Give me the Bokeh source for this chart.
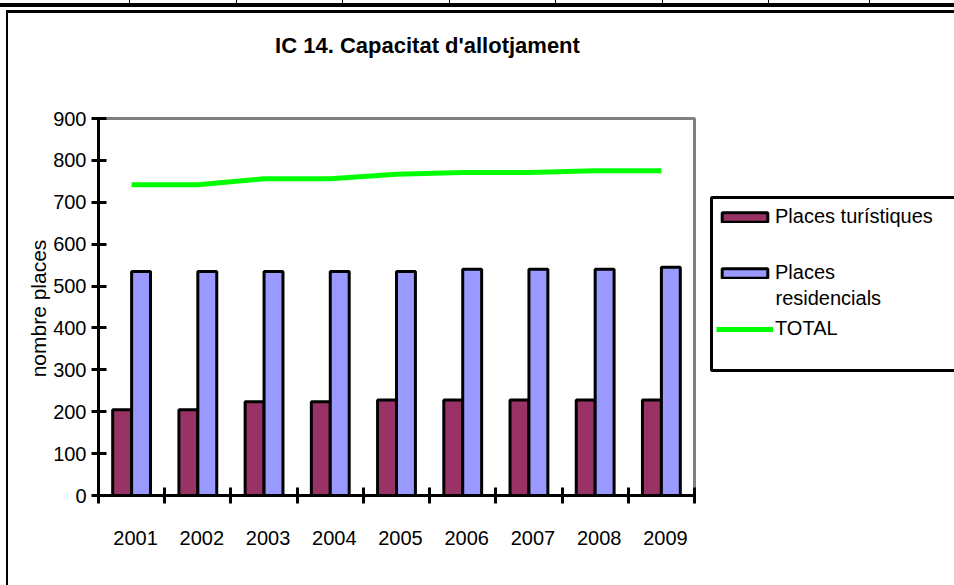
from math import pi
from bokeh.plotting import figure
from bokeh.models import (ColumnDataSource, FixedTicker, Legend, LegendItem, Range1d,
                          BoxAnnotation, Label)
from bokeh.transform import dodge
from bokeh.embed import file_html
from bokeh.resources import INLINE

years = ["2001", "2002", "2003", "2004", "2005", "2006", "2007", "2008", "2009"]
places_turistiques = [205, 205, 224, 224, 228, 228, 228, 228, 228]
places_residencials = [535, 535, 535, 535, 535, 540, 540, 540, 545]
total = [742, 742, 756, 756, 767, 771, 771, 775, 775]
y_ticks = [0, 100, 200, 300, 400, 500, 600, 700, 800, 900]
y_max = 900

pos = list(range(1, len(years) + 1))
src = ColumnDataSource(dict(pos=pos, year=years, tur=places_turistiques,
                            res=places_residencials, total=total))

FONT = "Liberation Sans"
W, H = 954, 585
# pixel geometry of the plot area inside the canvas
LEFT, RIGHT, TOP, BOTTOM = 98, 694, 118, 495
px_x = (RIGHT - LEFT) / len(years)
px_y = (BOTTOM - TOP) / y_max
x_start = 0.5 - LEFT / px_x
x_end = 0.5 + (W - LEFT) / px_x
y_start = -(H - BOTTOM) / px_y
y_end = y_max + TOP / px_y
label_shift = 4 / px_x   # category labels sit slightly right of centre, as in the original

# the frame covers the whole canvas; axes are pinned to the plot-area edges
p = figure(width=W, height=H, output_backend="svg", toolbar_location=None,
           title_location=None,
           x_range=Range1d(x_start, x_end), y_range=Range1d(y_start, y_end),
           min_border_left=0, min_border_right=0, min_border_top=0,
           min_border_bottom=0)
p.border_fill_alpha = 0
p.background_fill_alpha = 0
p.outline_line_color = None

# spreadsheet cell borders and the chart's own frame, drawn as CSS behind the canvas
sheet_cols = [129, 236, 342, 449, 555, 662, 768, 869]
imgs = ["linear-gradient(#000,#000)"] * (3 + len(sheet_cols))
poss = ["0px 3px", "6px 10px", "6px 10px"] + [f"{c}px 0px" for c in sheet_cols]
sizes = ["954px 4px", "948px 3px", "2px 575px"] + ["1px 3px"] * len(sheet_cols)
p.styles = {
    "background-color": "white",
    "background-image": ", ".join(imgs),
    "background-position": ", ".join(poss),
    "background-size": ", ".join(sizes),
    "background-repeat": "no-repeat",
}

p.xgrid.grid_line_color = None
p.ygrid.grid_line_color = None

# grey plot-area border (top and right visible)
p.add_layout(BoxAnnotation(left=0.5, right=len(years) + 0.5, bottom=0, top=y_max,
                           fill_alpha=0, line_color="#808080", line_alpha=1,
                           line_width=3, level="underlay"))

w = 1 / 3.5
r1 = p.vbar(x=dodge("pos", -w / 2), top="tur", width=w, source=src,
            fill_color="#993366", line_color="black", line_width=3)
r2 = p.vbar(x=dodge("pos", w / 2), top="res", width=w, source=src,
            fill_color="#9999FF", line_color="black", line_width=3)
r3 = p.line("pos", "total", source=src, line_color="#00FF00", line_width=5)

label_pos = [i + label_shift for i in pos]
xa = p.xaxis[0]
xa.fixed_location = 0
xa.bounds = (0.5, len(years) + 0.5)
xa.ticker = FixedTicker(ticks=label_pos,
                        minor_ticks=[i + 0.5 for i in range(len(years) + 1)])
xa.major_label_overrides = {lp: y for lp, y in zip(label_pos, years)}
xa.major_tick_in = 0
xa.major_tick_out = 0
xa.minor_tick_in = 8
xa.minor_tick_out = 8
xa.minor_tick_line_color = "black"
xa.minor_tick_line_width = 3
xa.axis_line_width = 3
xa.axis_line_color = "black"
xa.major_label_standoff = 27
xa.major_label_text_font = FONT
xa.major_label_text_font_size = "20px"
xa.major_label_text_color = "black"

ya = p.yaxis[0]
ya.fixed_location = 0.5
ya.bounds = (0, y_max)
ya.ticker = FixedTicker(ticks=y_ticks)
ya.major_tick_in = 8
ya.major_tick_out = 7
ya.major_tick_line_width = 3
ya.major_tick_line_color = "black"
ya.minor_tick_line_color = None
ya.axis_line_width = 3
ya.axis_line_color = "black"
ya.major_label_standoff = 5
ya.major_label_text_font = FONT
ya.major_label_text_font_size = "20px"
ya.major_label_text_color = "black"

# y-axis title
p.add_layout(Label(x=38, y=H - 308, x_units="screen", y_units="screen",
                   text="nombre places", angle=pi / 2, text_font=FONT,
                   text_font_size="21px", text_color="black",
                   text_align="center", text_baseline="middle"))

# chart title
p.add_layout(Label(x=427, y=H - 45, x_units="screen", y_units="screen",
                   text="IC 14. Capacitat d'allotjament", text_font=FONT,
                   text_font_size="22px", text_font_style="bold", text_color="black",
                   text_align="center", text_baseline="middle"))

# legend box
p.add_layout(BoxAnnotation(left=711, right=1000, top=H - 197, bottom=H - 370,
                           left_units="screen", right_units="screen",
                           top_units="screen", bottom_units="screen",
                           fill_color="white", fill_alpha=1, line_color="black",
                           line_alpha=1, line_width=3))

legend = Legend(items=[LegendItem(label="Places turístiques", renderers=[r1]),
                       LegendItem(label="Places", renderers=[r2]),
                       LegendItem(label="TOTAL", renderers=[r3])],
                location=(716, H - 340), border_line_color=None,
                glyph_width=57, glyph_height=12, label_text_font=FONT,
                label_text_font_size="20px", label_text_color="black",
                padding=2, spacing=33, label_standoff=2,
                background_fill_alpha=0)
p.add_layout(legend)
# second line of the "Places residencials" legend entry
p.add_layout(Label(x=775, y=H - 297, x_units="screen", y_units="screen",
                   text="residencials", text_font=FONT, text_font_size="20px",
                   text_color="black", text_baseline="middle"))

open("out.html", "w").write(file_html(p, INLINE))
